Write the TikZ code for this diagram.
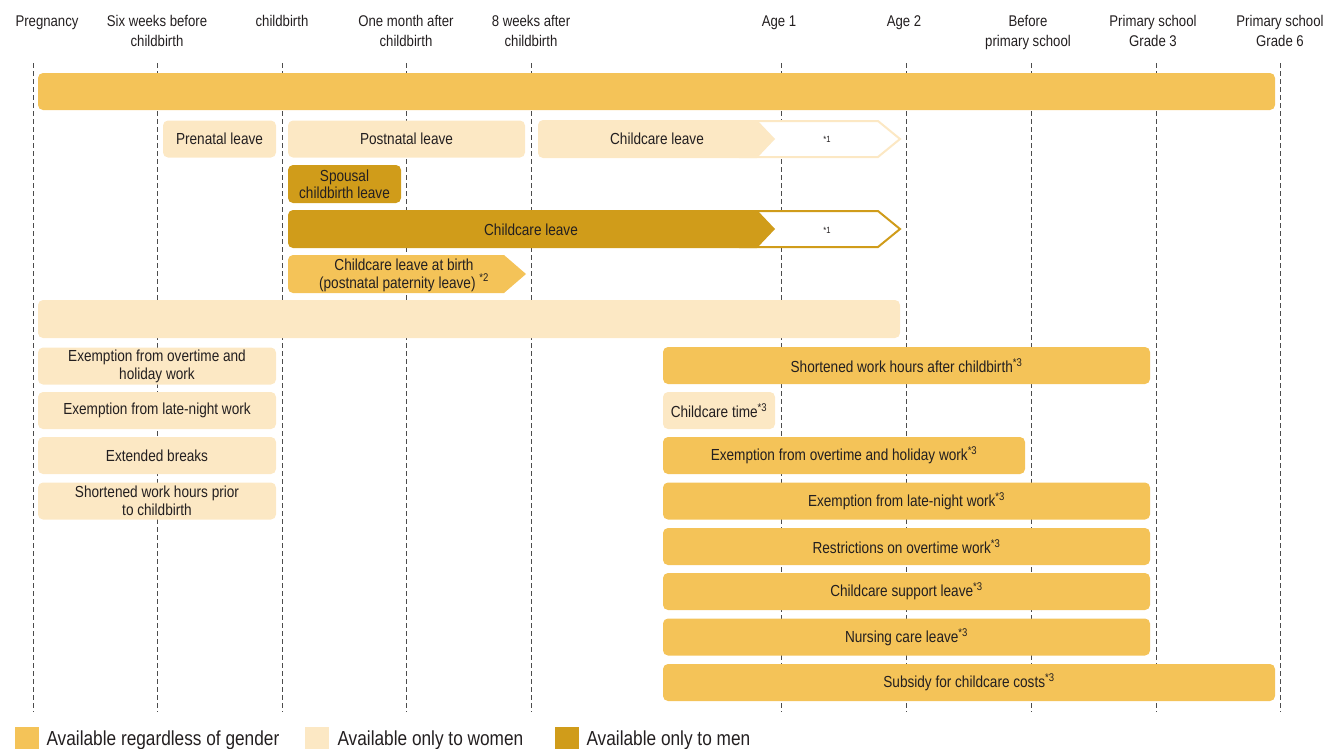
\documentclass[tikz,border=0pt]{standalone}
\usepackage{fontspec}
\setmainfont{Liberation Sans}[FakeStretch=0.85]
\usepackage{xcolor}

\definecolor{gold}{HTML}{F4C358}
\definecolor{cream}{HTML}{FCE8C4}
\definecolor{ochre}{HTML}{D09C1A}
\definecolor{ink}{HTML}{231F20}

% bar from x=#3 to x=#4, centred on row y=#5
\newcommand{\leavebar}[6][]{%
  \node[bar,#1,minimum width={(#4-#3)*1pt}] (#2) at ({(#3+#4)/2},#5) {#6};}

\begin{document}
\begin{tikzpicture}[x=1pt,y=-1pt,
  font=\fontsize{16}{18}\selectfont, text=ink,
  bar/.style={rounded corners=5pt, minimum height=37pt, inner sep=0pt, align=center},
  both/.style={fill=gold}, women/.style={fill=cream}, men/.style={fill=ochre},
  stage/.style={anchor=north, align=center, font=\fontsize{15.5}{20}\selectfont},
  note/.style={font=\fontsize{9}{10}\selectfont}]
\useasboundingbox (0,0) rectangle (1324,748);

% time axis
\foreach \x in {33,157,282,406,531,781,906,1031,1156,1280}
  \draw[dashed, dash pattern=on 5pt off 3pt, line width=0.8pt, black!70] (\x,63) -- (\x,712);

\node[stage] (preg) at (47,12) {Pregnancy};
\node[stage] (sixwk) at (157,12) {Six weeks before\\childbirth};
\node[stage] (birth) at (282,12) {childbirth};
\node[stage] (onemo) at (406,12) {One month after\\childbirth};
\node[stage] (eightwk) at (531,12) {8 weeks after\\childbirth};
\node[stage] (age1) at (779,12) {Age 1};
\node[stage] (age2) at (904,12) {Age 2};
\node[stage] (presch) at (1028,12) {Before\\primary school};
\node[stage] (grade3) at (1153,12) {Primary school\\Grade 3};
\node[stage] (grade6) at (1280,12) {Primary school\\Grade 6};

% around birth
\leavebar[both]{top}{38}{1275}{91.5}{}
\leavebar[women]{prenatal}{163}{276}{139}{Prenatal leave}
\leavebar[women]{postnatal}{288}{525}{139}{Postnatal leave}

\draw[cream, line width=2pt, fill=white] (740,121) -- (878,121) -- (900,139) -- (878,157) -- (740,157) -- cycle;
\fill[cream] (650,120) -- (757,120) -- (775,139) -- (757,158) -- (650,158)
  [rounded corners=5pt] -- (538,158) -- (538,120) -- cycle;
\node (ccwomen) at (657,139) {Childcare leave};
\node[note] (ccwomen1) at (827,139) {*1};

\leavebar[men,minimum height=38pt]{spousal}{288}{401}{184}{Spousal\\[-1pt]childbirth leave}

\draw[ochre, line width=2pt, fill=white] (740,211) -- (878,211) -- (900,229) -- (878,247) -- (740,247) -- cycle;
\fill[ochre] (650,210) -- (757,210) -- (775,229) -- (757,248) -- (650,248)
  [rounded corners=5pt] -- (288,248) -- (288,210) -- cycle;
\node (ccmen) at (531,230) {Childcare leave};
\node[note] (ccmen1) at (827,230) {*1};

\fill[gold] (400,255) -- (504,255) -- (526,274) -- (504,293) -- (400,293)
  [rounded corners=5pt] -- (288,293) -- (288,255) -- cycle;
\node[align=center] (atbirth) at (404,275) {Childcare leave at birth\\(postnatal paternity leave) \textsuperscript{*2}};

\leavebar[women,minimum height=38pt]{women2}{38}{900}{319}{}

% women only, before birth
\leavebar[women]{overtime}{38}{276}{366}{Exemption from overtime and\\holiday work}
\leavebar[women]{latenight}{38}{276}{410.5}{Exemption from late-night work}
\leavebar[women]{breaks}{38}{276}{455.5}{Extended breaks}
\leavebar[women]{shortpre}{38}{276}{501}{Shortened work hours prior\\to childbirth}

% after age 1
\leavebar[both]{shortpost}{663}{1150}{365.5}{Shortened work hours after childbirth\textsuperscript{*3}}
\leavebar[women]{cctime}{663}{775}{410.5}{Childcare time\textsuperscript{*3}}
\leavebar[both]{overtime2}{663}{1025}{455.5}{Exemption from overtime and holiday work\textsuperscript{*3}}
\leavebar[both]{latenight2}{663}{1150}{501}{Exemption from late-night work\textsuperscript{*3}}
\leavebar[both]{restrict}{663}{1150}{546.5}{Restrictions on overtime work\textsuperscript{*3}}
\leavebar[both]{support}{663}{1150}{591.5}{Childcare support leave\textsuperscript{*3}}
\leavebar[both]{nursing}{663}{1150}{637}{Nursing care leave\textsuperscript{*3}}
\leavebar[both]{subsidy}{663}{1275}{682.5}{Subsidy for childcare costs\textsuperscript{*3}}

% legend
\begin{scope}[font=\fontsize{20.3}{22}\selectfont]
\node[both, minimum width=24pt, minimum height=22pt, inner sep=0pt] (keyboth) at (27,738) {};
\node[anchor=west] (keybotht) at (43,740) {Available regardless of gender};
\node[women, minimum width=24pt, minimum height=22pt, inner sep=0pt] (keywomen) at (317,738) {};
\node[anchor=west] (keywoment) at (334,740) {Available only to women};
\node[men, minimum width=24pt, minimum height=22pt, inner sep=0pt] (keymen) at (567,738) {};
\node[anchor=west] (keyment) at (583,740) {Available only to men};
\end{scope}
\end{tikzpicture}
\end{document}
